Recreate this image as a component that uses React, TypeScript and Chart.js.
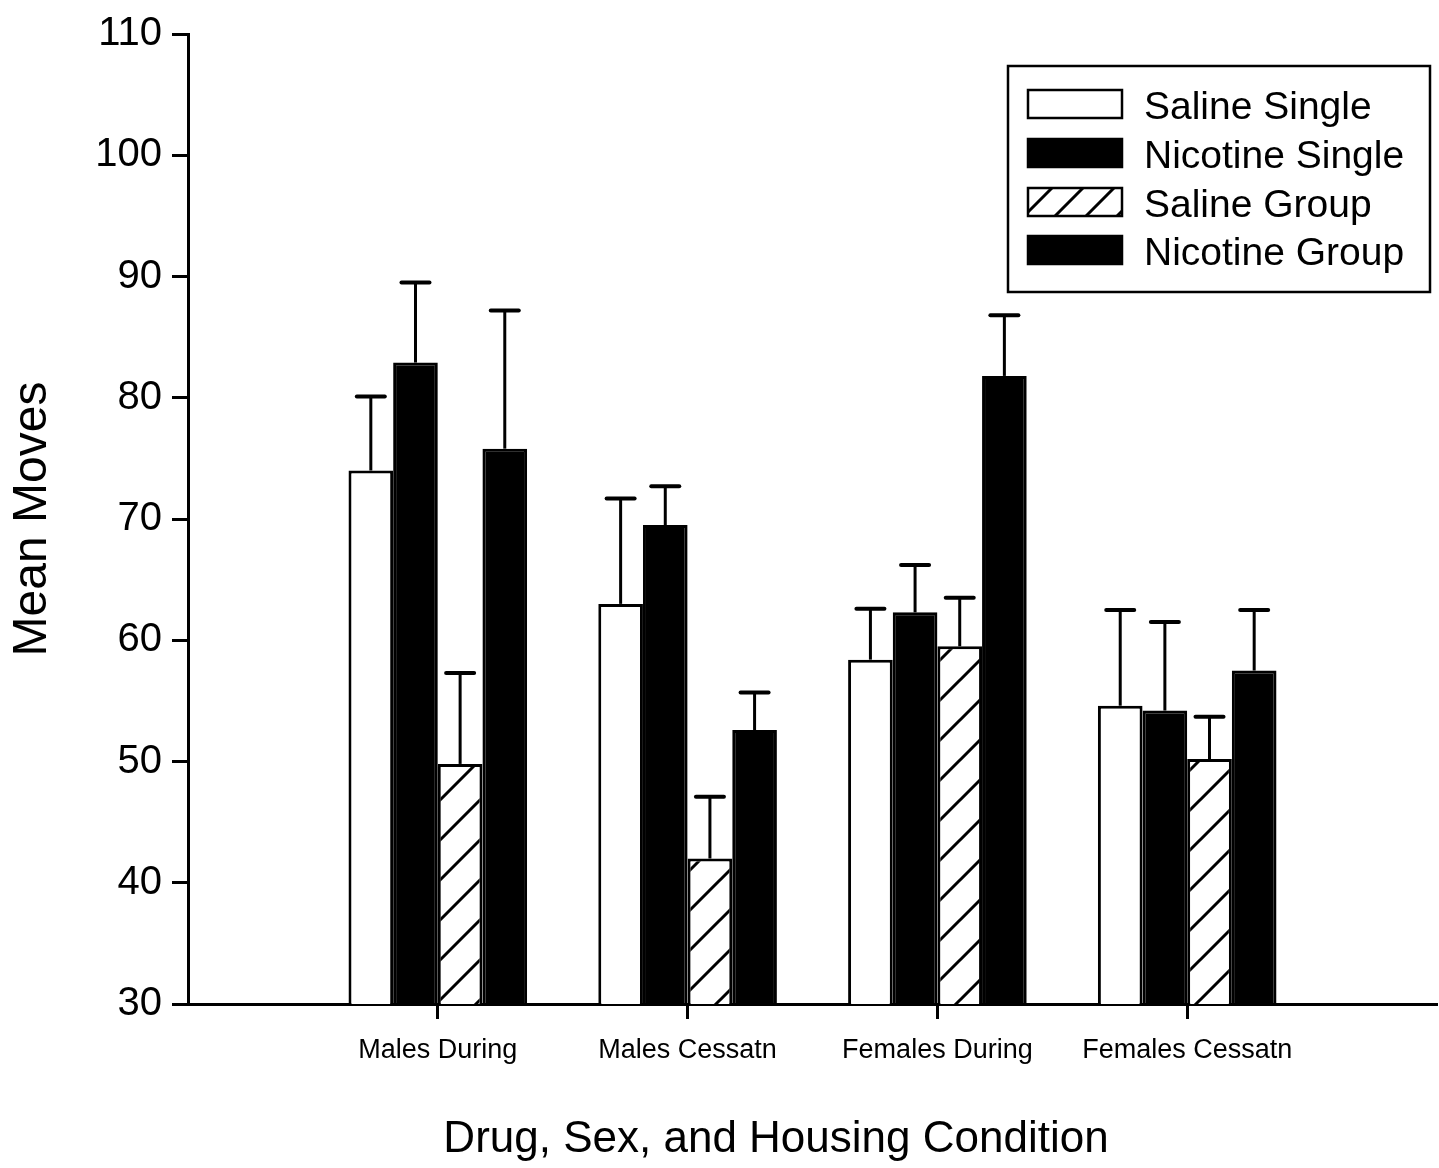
import React, { useEffect, useRef } from "react";
import { Chart, registerables } from "chart.js";

Chart.register(...registerables);

// ---- data ----
const categories = ["Males During", "Males Cessatn", "Females During", "Females Cessatn"];
const seriesNames = ["Saline Single", "Nicotine Single", "Saline Group", "Nicotine Group"];

const salineSingle = [74.0, 63.0, 58.4, 54.6];
const salineSingleErr = [6.1, 8.7, 4.2, 7.9];

const nicotineSingle = [82.9, 69.5, 62.3, 54.2];
const nicotineSingleErr = [6.6, 3.2, 3.9, 7.3];

const salineGroup = [49.8, 42.0, 59.5, 50.2];
const salineGroupErr = [7.5, 5.1, 4.0, 3.5];

const nicotineGroup = [75.8, 52.6, 81.8, 57.5];
const nicotineGroupErr = [11.4, 3.1, 5.0, 5.0];

const yTickValues = [30, 40, 50, 60, 70, 80, 90, 100, 110];

const yTitle = "Mean Moves";
const xTitle = "Drug, Sex, and Housing Condition";

const FONT = "'Liberation Sans', Arial, Helvetica, sans-serif";

function makeHatch(size: number, lw: number): CanvasPattern | string {
  const c = document.createElement("canvas");
  c.width = size;
  c.height = size;
  const g = c.getContext("2d");
  if (!g) return "#fff";
  g.fillStyle = "#fff";
  g.fillRect(0, 0, size, size);
  g.strokeStyle = "#000";
  g.lineWidth = lw;
  g.beginPath();
  g.moveTo(-size, size);
  g.lineTo(size, -size);
  g.moveTo(0, size);
  g.lineTo(size, 0);
  g.moveTo(0, 2 * size);
  g.lineTo(2 * size, 0);
  g.stroke();
  const p = g.createPattern(c, "repeat");
  return p || "#fff";
}

export default function App() {
  const ref = useRef<HTMLCanvasElement | null>(null);

  useEffect(() => {
    const canvas = ref.current;
    if (!canvas) return;
    const hatch = makeHatch(40, 3);
    const legendHatch = makeHatch(31, 3);

    const labels = ["", ...categories, ""];
    const pad = (arr: number[]) => [null, ...arr, null];
    const errs = [salineSingleErr, nicotineSingleErr, salineGroupErr, nicotineGroupErr];
    const fills: any[] = ["#ffffff", "#000000", hatch, "#000000"];
    const legendFills: any[] = ["#ffffff", "#000000", legendHatch, "#000000"];

    const errorBarPlugin = {
      id: "errorBars",
      afterDatasetsDraw(chart: any) {
        const ctx = chart.ctx;
        const yScale = chart.scales.y;
        ctx.save();
        ctx.strokeStyle = "#000";
        chart.data.datasets.forEach((ds: any, di: number) => {
          const meta = chart.getDatasetMeta(di);
          meta.data.forEach((el: any, i: number) => {
            const v = ds.data[i];
            if (v == null) return;
            const e = errs[di][i - 1];
            const yTop = yScale.getPixelForValue(v + e);
            ctx.lineWidth = 3;
            ctx.beginPath();
            ctx.moveTo(el.x, el.y);
            ctx.lineTo(el.x, yTop);
            ctx.stroke();
            ctx.lineWidth = 4;
            ctx.lineCap = "round";
            ctx.beginPath();
            ctx.moveTo(el.x - 14, yTop);
            ctx.lineTo(el.x + 14, yTop);
            ctx.stroke();
            ctx.lineCap = "butt";
          });
        });
        ctx.restore();
      },
    };

    const legendPlugin = {
      id: "boxLegend",
      afterDraw(chart: any) {
        const ctx = chart.ctx;
        ctx.save();
        // x-axis title, centred like the original figure
        ctx.fillStyle = "#000";
        ctx.font = `44px ${FONT}`;
        ctx.textAlign = "center";
        ctx.textBaseline = "middle";
        ctx.fillText(xTitle, 776, 1140);

        ctx.strokeStyle = "#000";
        ctx.lineWidth = 2.5;
        ctx.strokeRect(1008, 66, 422, 226);
        const rowY = [104, 153, 202, 250];
        seriesNames.forEach((name, i) => {
          const cy = rowY[i];
          const x = 1028, w = 94, h = 28;
          ctx.fillStyle = legendFills[i];
          ctx.fillRect(x, cy - h / 2, w, h);
          ctx.lineWidth = 2.5;
          ctx.strokeRect(x, cy - h / 2, w, h);
          ctx.fillStyle = "#000";
          ctx.font = `39px ${FONT}`;
          ctx.textBaseline = "alphabetic";
          ctx.textAlign = "left";
          ctx.fillText(name, 1144, cy + 15);
        });
        ctx.restore();
      },
    };

    const datasets = [salineSingle, nicotineSingle, salineGroup, nicotineGroup].map((arr, i) => ({
      label: seriesNames[i],
      data: pad(arr),
      backgroundColor: fills[i],
      borderColor: "#000",
      borderWidth: 3,
      barPercentage: 1.0,
      categoryPercentage: 0.715,
    }));

    const chart = new Chart(canvas, {
      type: "bar",
      data: { labels, datasets: datasets as any },
      options: {
        responsive: false,
        animation: false,
        devicePixelRatio: 1,
        layout: { padding: { top: 32, right: 2, left: 0, bottom: 0 } },
        plugins: {
          legend: { display: false },
          tooltip: { enabled: false },
        },
        scales: {
          x: {
            type: "category",
            offset: false,
            grid: {
              display: true,
              offset: false,
              drawOnChartArea: false,
              drawTicks: true,
              tickLength: 15,
              tickWidth: 3,
              tickColor: (c: any) => (c.index === 0 || c.index === labels.length - 1 ? "rgba(0,0,0,0)" : "#000"),
            },
            border: { display: true, color: "#000", width: 3 },
            ticks: {
              color: "#000",
              font: { family: FONT, size: 27 },
              padding: 15,
              maxRotation: 0,
              autoSkip: false,
            },
            title: { display: false },
            afterFit: (scale: any) => {
              scale.height = 164;
              scale.paddingLeft = 0;
              scale.paddingRight = 0;
            },
          },
          y: {
            type: "linear",
            min: 30,
            max: 110,
            afterBuildTicks: (scale: any) => {
              scale.ticks = yTickValues.map((v) => ({ value: v }));
            },
            grid: {
              display: true,
              drawOnChartArea: false,
              drawTicks: true,
              tickLength: 16,
              tickWidth: 3,
              tickColor: "#000",
            },
            border: { display: true, color: "#000", width: 3 },
            ticks: {
              color: "#000",
              font: { family: FONT, size: 40 },
              padding: 10,
            },
            title: {
              display: true,
              text: yTitle,
              color: "#000",
              font: { family: FONT, size: 48 },
              padding: { top: 4, bottom: 0 },
            },
            afterFit: (scale: any) => {
              scale.width = 188;
            },
          },
        },
      } as any,
      plugins: [errorBarPlugin, legendPlugin],
    });

    return () => {
      chart.destroy();
    };
  }, []);

  return (
    <div style={{ position: "absolute", left: 0, top: 0, width: 1439, height: 1168, background: "#fff" }}>
      <canvas ref={ref} width={1439} height={1168} style={{ width: 1439, height: 1168, display: "block" }} />
    </div>
  );
}
